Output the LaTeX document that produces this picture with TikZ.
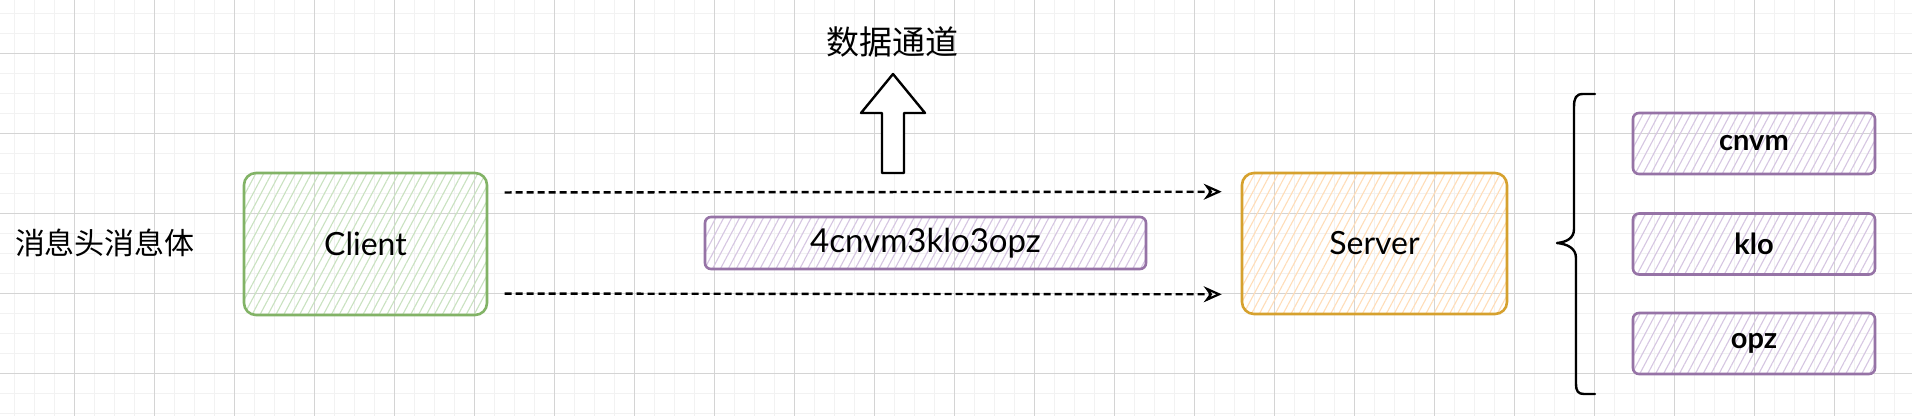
\documentclass[tikz,border=0pt]{standalone}
\usepackage{fontspec}
\setmainfont{Lato}
\newfontfamily\cjk{Noto Sans CJK SC}
\usetikzlibrary{patterns.meta,arrows.meta,calc}
\definecolor{gridmajor}{HTML}{D4D4D4}
\definecolor{gridminor}{HTML}{F2F2F2}
\definecolor{gstroke}{HTML}{82B366}
\definecolor{gfill}{HTML}{C9E2C0}
\definecolor{ostroke}{HTML}{D6A12E}
\definecolor{ofill}{HTML}{FFDDB8}
\definecolor{pstroke}{HTML}{9673A6}
\definecolor{pfill}{HTML}{D6C6E2}
\tikzset{
  hbox/.style n args={2}{draw=#1, line width=2.6pt, rounded corners=12pt,
    pattern={Lines[angle=62,distance=7pt,line width=1.1pt]}, pattern color=#2,
    inner sep=0pt, font=\fontsize{32}{34}\selectfont, text=black},
  pbox/.style={draw=pstroke, line width=2.6pt, rounded corners=6pt,
    pattern={Lines[angle=62,distance=7pt,line width=1.1pt]}, pattern color=pfill,
    inner sep=0pt, text=black},
  dasharrow/.style={draw=black, line width=2.4pt, dash pattern=on 7pt off 4pt,
    -{Stealth[length=18pt,width=16pt,open,line width=2.2pt]}},
  cjklabel/.style={inner sep=0pt, font=\cjk\fontsize{30}{32}\selectfont}
}
\begin{document}
\begin{tikzpicture}[x=1pt,y=-1pt]
\useasboundingbox (0,0) rectangle (1912,416);
\fill[white] (0,0) rectangle (1912,416);
% grid
\foreach \gx in {14,34,...,1914} \draw[gridminor, line width=1pt] (\gx,0) -- (\gx,416);
\foreach \gy in {13,33,...,413} \draw[gridminor, line width=1pt] (0,\gy) -- (1912,\gy);
\foreach \gx in {74,154,...,1914} \draw[gridmajor, line width=1pt] (\gx,0) -- (\gx,416);
\foreach \gy in {53,133,...,413} \draw[gridmajor, line width=1pt] (0,\gy) -- (1912,\gy);

% labels
\node[cjklabel] (hdr) at (105,243) {消息头消息体};
\node[cjklabel, font=\cjk\fontsize{33}{35}\selectfont] (chan) at (892,42) {数据通道};

% boxes
\node[hbox={gstroke}{gfill}, minimum width=243pt, minimum height=142pt] (client) at (365.5,244) {Client};
\node[hbox={ostroke}{ofill}, minimum width=265pt, minimum height=141pt] (server) at (1374.5,243.5) {Server};
\node[pbox, minimum width=441pt, minimum height=52pt, font=\fontsize{33}{35}\selectfont] (msg) at (925.5,243) {4cnvm3klo3opz};
\node[pbox, minimum width=242pt, minimum height=61pt, font=\bfseries\fontsize{29}{31}\selectfont] (p1) at (1754,143.5) {cnvm};
\node[pbox, minimum width=242pt, minimum height=61pt, font=\bfseries\fontsize{29}{31}\selectfont] (p2) at (1754,244) {klo};
\node[pbox, minimum width=242pt, minimum height=61pt, font=\bfseries\fontsize{29}{31}\selectfont] (p3) at (1754,343.5) {opz};

% dashed connectors
\draw[dasharrow] ([xshift=17pt,yshift=-20pt]client.north east) -- ([xshift=-19pt,yshift=-20pt]server.north west);
\draw[dasharrow] ([xshift=17pt,yshift=22pt]client.south east) -- ([xshift=-19pt,yshift=21pt]server.south west);

% block arrow up
\draw[black, line width=2.4pt, line join=round, fill=white]
  (893,74) -- (925,113) -- (904,113) -- (904,173) -- (882,173) -- (882,113) -- (861,113) -- cycle;

% brace
\draw[black, line width=2.4pt, line cap=round, line join=round]
  (1595,94) -- (1583,94) .. controls (1576,94) and (1574,98) .. (1574,107)
  -- (1574,229) .. controls (1574,238) and (1567,242) .. (1557,243)
  .. controls (1567,244) and (1576,248) .. (1576,258)
  -- (1576,384) .. controls (1576,391) and (1578,394) .. (1584,394) -- (1595,394);
\end{tikzpicture}
\end{document}
